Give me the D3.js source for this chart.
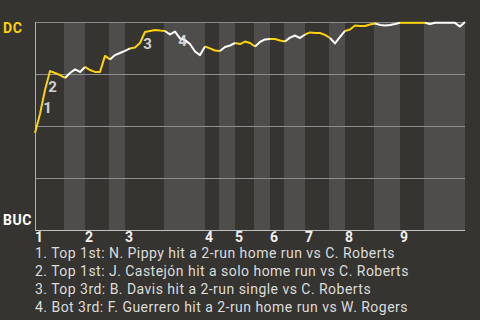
<!DOCTYPE html>
<html>
<head>
<meta charset="utf-8">
<script src="https://cdn.jsdelivr.net/npm/d3@7"></script>
<style>
  html, body { margin: 0; padding: 0; background: #353430; }
  svg { display: block; }
</style>
</head>
<body>
<svg id="chart" width="480" height="320"></svg>
<script>
// ---- data ----
const teams = ["DC", "BUC"];
const innings = ["1", "2", "3", "4", "5", "6", "7", "8", "9"];
// half-inning band edges, in play-index units
const bandEdges = [0, 5.8, 10, 14.8, 18, 25.8, 34, 36.8, 40, 43.8, 47, 49.8, 54, 58.8, 62, 67.8, 73, 77.8, 86];
// play index where each half-inning's line colour starts
const halfStarts = [0, 6, 10, 15, 19, 26, 34, 37, 40, 44, 47, 50, 54, 59, 62, 68, 73, 78];
// DC win probability after each play
const winProb = [
  0.466, 0.558, 0.673, 0.764, 0.755, 0.745, 0.731, 0.755, 0.772, 0.760,
  0.784, 0.769, 0.760, 0.760, 0.837, 0.820, 0.841, 0.851, 0.861, 0.873,
  0.877, 0.899, 0.952, 0.957, 0.962, 0.959, 0.957, 0.940, 0.954, 0.921,
  0.913, 0.894, 0.858, 0.841, 0.882, 0.873, 0.863, 0.861, 0.880, 0.887,
  0.899, 0.894, 0.906, 0.899, 0.882, 0.904, 0.916, 0.918, 0.918, 0.911,
  0.906, 0.925, 0.935, 0.923, 0.940, 0.950, 0.947, 0.947, 0.938, 0.923,
  0.897, 0.928, 0.957, 0.964, 0.983, 0.981, 0.981, 0.988, 0.993, 0.986,
  0.983, 0.986, 0.990, 0.996, 0.996, 0.996, 0.996, 0.996, 0.996, 0.990,
  0.996, 0.996, 0.996, 0.996, 0.996, 0.978, 1.000
];
const gridValues = [0.25, 0.5, 0.75];
const eventIndex = [2, 3, 22, 29];
const eventText = [
  "1. Top 1st: N. Pippy hit a 2-run home run vs C. Roberts",
  "2. Top 1st: J. Castejón hit a solo home run vs C. Roberts",
  "3. Top 3rd: B. Davis hit a 2-run single vs C. Roberts",
  "4. Bot 3rd: F. Guerrero hit a 2-run home run vs W. Rogers"
];

// ---- layout ----
const svg = d3.select("#chart");
const pL = 35, pR = 465, pT = 22, pB = 230;
const font = "Roboto, 'Noto Sans', sans-serif";
const yellow = "#fcd20a";

const x = d3.scaleLinear().domain([0, winProb.length - 1]).range([pL, pR]);
const y = d3.scaleLinear().domain([0, 1]).range([pB, pT]);

svg.append("rect").attr("width", 480).attr("height", 320).attr("fill", "#353430");

// bands (bottom halves lighter)
const bands = d3.range(bandEdges.length - 1).map(k => ({ k, a: bandEdges[k], b: bandEdges[k + 1] }));
svg.append("g").selectAll("rect")
  .data(bands.filter(d => d.k % 2 === 1))
  .join("rect")
  .attr("x", d => x(d.a))
  .attr("y", pT)
  .attr("width", d => x(d.b) - x(d.a))
  .attr("height", pB - pT)
  .attr("fill", "#4e4d4b");

// gridlines
svg.append("g").selectAll("line")
  .data(gridValues)
  .join("line")
  .attr("x1", pL).attr("x2", pR)
  .attr("y1", d => Math.round(y(d)) + 0.5).attr("y2", d => Math.round(y(d)) + 0.5)
  .attr("stroke", "#8e8e8c").attr("stroke-width", 1);

// borders
svg.append("line").attr("x1", pL).attr("x2", pR).attr("y1", pT + 0.5).attr("y2", pT + 0.5)
  .attr("stroke", "#8a8a88");
svg.append("line").attr("x1", pL + 0.5).attr("x2", pL + 0.5).attr("y1", pT).attr("y2", pB + 1)
  .attr("stroke", "#b0b0ae");
svg.append("line").attr("x1", pL).attr("x2", pR).attr("y1", pB + 0.5).attr("y2", pB + 0.5)
  .attr("stroke", "#c0c0be");

// win probability line, coloured by half-inning
const line = d3.line().x(d => x(d.i)).y(d => y(d.v));
const pts = winProb.map((v, i) => ({ i, v }));
const segs = halfStarts.map((s, h) => {
  const e = h + 1 < halfStarts.length ? halfStarts[h + 1] : winProb.length - 1;
  return { h, pts: pts.slice(s, e + 1) };
});
svg.append("g").selectAll("path")
  .data(segs)
  .join("path")
  .attr("d", d => line(d.pts))
  .attr("fill", "none")
  .attr("stroke", d => d.h % 2 === 0 ? yellow : "#ffffff")
  .attr("stroke-width", 2)
  .attr("stroke-linejoin", "round");

// event markers
svg.append("g").selectAll("text")
  .data(eventIndex)
  .join("text")
  .attr("x", d => (x(d) + x(d - 1)) / 2 + 5)
  .attr("y", d => (y(winProb[d]) + y(winProb[d - 1])) / 2 + 6)
  .attr("dy", "0.36em")
  .attr("text-anchor", "middle")
  .attr("font-family", font).attr("font-weight", "bold").attr("font-size", 15)
  .attr("fill", "#e6e6e6").attr("fill-opacity", 0.9)
  .text((d, i) => i + 1);

// team labels
svg.append("text").attr("x", 3).attr("y", 33)
  .attr("font-family", font).attr("font-weight", "bold").attr("font-size", 14)
  .attr("letter-spacing", 0.6)
  .attr("fill", yellow).text(teams[0]);
svg.append("text").attr("x", 3).attr("y", 225)
  .attr("font-family", font).attr("font-weight", "bold").attr("font-size", 14)
  .attr("letter-spacing", 0.6)
  .attr("fill", "#ffffff").text(teams[1]);

// inning labels
svg.append("g").selectAll("text")
  .data(innings)
  .join("text")
  .attr("x", (d, i) => x(bandEdges[i * 2]))
  .attr("y", 242)
  .attr("font-family", font).attr("font-weight", "bold").attr("font-size", 14)
  .attr("fill", "#f0f0f0")
  .text(d => d);

// legend
svg.append("g").selectAll("text")
  .data(eventText)
  .join("text")
  .attr("x", 35)
  .attr("y", (d, i) => 257.5 + i * 18)
  .attr("font-family", font).attr("font-size", 14)
  .attr("letter-spacing", 0.47)
  .attr("fill", "#dcdcdc")
  .text(d => d);
</script>
</body>
</html>
